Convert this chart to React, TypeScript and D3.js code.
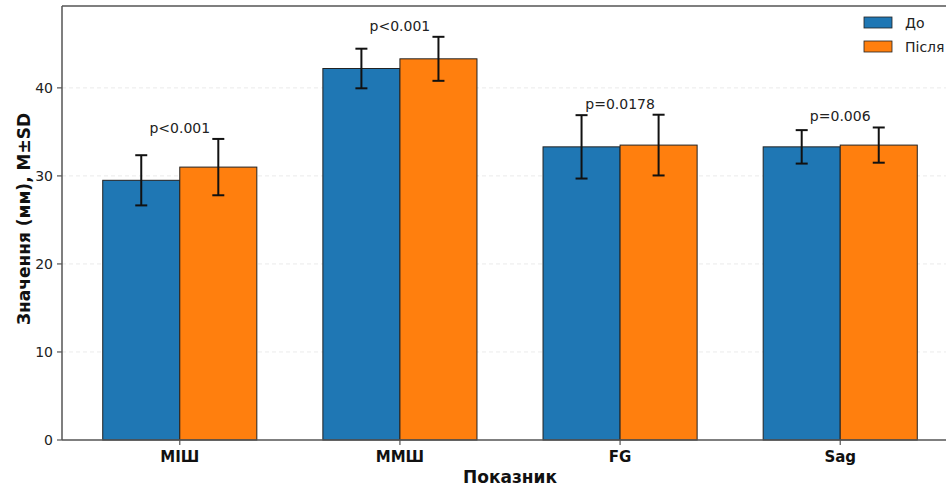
import React from 'react';
import * as d3 from 'd3';

const categories = ['МІШ', 'ММШ', 'FG', 'Sag'];
const beforeMean = [29.5, 42.2, 33.3, 33.3];
const beforeSd = [2.85, 2.25, 3.6, 1.9];
const afterMean = [31.0, 43.3, 33.5, 33.5];
const afterSd = [3.2, 2.5, 3.45, 2.0];
const pLabels = ['p<0.001', 'p<0.001', 'p=0.0178', 'p=0.006'];
const seriesNames = ['До', 'Після'];
const yTicks = [0, 10, 20, 30, 40];

const W = 946;
const H = 486;
const margin = { top: 6, left: 62, bottom: 46 };
const plotRight = 958;
const barW = 0.35;
const blue = '#1f77b4';
const orange = '#ff7f0e';
const font = '"DejaVu Sans", sans-serif';

const App = () => {
  const x = d3.scaleLinear().domain([-0.535, 3.535]).range([margin.left, plotRight]);
  const y = d3.scaleLinear().domain([0, 49.3]).range([H - margin.bottom, margin.top]);
  const y0 = y(0);

  const series = [
    { name: seriesNames[0], mean: beforeMean, sd: beforeSd, color: blue, off: -barW },
    { name: seriesNames[1], mean: afterMean, sd: afterSd, color: orange, off: 0 },
  ];

  return (
    <svg width={W} height={H} style={{ position: 'absolute', left: 0, top: 0, background: '#fff' }}>
      {/* grid */}
      {yTicks.slice(1).map(t => (
        <line key={t} x1={margin.left} x2={plotRight} y1={y(t)} y2={y(t)}
          stroke="#b0b0b0" strokeOpacity={0.25} strokeDasharray="4,3" strokeWidth={1} />
      ))}

      {/* bars */}
      {series.map(s => categories.map((c, i) => (
        <rect key={s.name + c}
          x={x(i + s.off)} y={y(s.mean[i])}
          width={x(i + s.off + barW) - x(i + s.off)} height={y0 - y(s.mean[i])}
          fill={s.color} stroke="#222" strokeWidth={1} />
      )))}

      {/* error bars */}
      {series.map(s => categories.map((c, i) => {
        const cx = x(i + s.off + barW / 2);
        const top = y(s.mean[i] + s.sd[i]);
        const bot = y(s.mean[i] - s.sd[i]);
        return (
          <g key={'e' + s.name + c} stroke="#111" strokeWidth={2}>
            <line x1={cx} x2={cx} y1={top} y2={bot} />
            <line x1={cx - 6} x2={cx + 6} y1={top} y2={top} />
            <line x1={cx - 6} x2={cx + 6} y1={bot} y2={bot} />
          </g>
        );
      }))}

      {/* p-values */}
      {categories.map((c, i) => {
        const top = Math.max(beforeMean[i] + beforeSd[i], afterMean[i] + afterSd[i]);
        return (
          <text key={'p' + c} x={x(i)} y={y(top) - 6} textAnchor="middle"
            fontFamily={font} fontSize={14} fill="#222">{pLabels[i]}</text>
        );
      })}

      {/* spines */}
      <line x1={margin.left} x2={margin.left} y1={margin.top} y2={y0} stroke="#555" strokeWidth={1.5} />
      <line x1={margin.left} x2={plotRight} y1={margin.top} y2={margin.top} stroke="#555" strokeWidth={1.5} />
      <line x1={margin.left} x2={plotRight} y1={y0} y2={y0} stroke="#555" strokeWidth={1.5} />

      {/* y ticks */}
      {yTicks.map(t => (
        <g key={'yt' + t}>
          <line x1={margin.left - 5} x2={margin.left} y1={y(t)} y2={y(t)} stroke="#555" strokeWidth={1.2} />
          <text x={margin.left - 9} y={y(t)} dy="0.35em" textAnchor="end"
            fontFamily={font} fontSize={14} fill="#222">{t}</text>
        </g>
      ))}

      {/* x ticks */}
      {categories.map((c, i) => (
        <g key={'xt' + c}>
          <line x1={x(i)} x2={x(i)} y1={y0} y2={y0 + 5} stroke="#555" strokeWidth={1.2} />
          <text x={x(i)} y={y0 + 22} textAnchor="middle"
            fontFamily={font} fontSize={15} fontWeight="bold" fill="#111">{c}</text>
        </g>
      ))}

      {/* axis labels */}
      <text x={510} y={483} textAnchor="middle" fontFamily={font} fontSize={17}
        fontWeight="bold" fill="#111">Показник</text>
      <text transform={`translate(30,${(margin.top + y0) / 2 - 4}) rotate(-90)`} textAnchor="middle"
        fontFamily={font} fontSize={17} fontWeight="bold" fill="#111">Значення (мм), M±SD</text>

      {/* legend */}
      {series.map((s, k) => (
        <g key={'lg' + s.name} transform={`translate(864,${17 + k * 24})`}>
          <rect width={28} height={11} fill={s.color} stroke="#222" strokeWidth={0.8} />
          <text x={41} y={6} dy="0.35em" fontFamily={font} fontSize={14} fill="#222">{s.name}</text>
        </g>
      ))}
    </svg>
  );
};

export default App;
